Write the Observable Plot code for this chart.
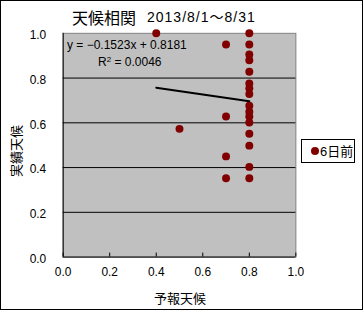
<!DOCTYPE html>
<html>
<head>
<meta charset="utf-8">
<script src="https://cdn.jsdelivr.net/npm/d3@7"></script>
<script src="https://cdn.jsdelivr.net/npm/@observablehq/plot@0.6"></script>
<style>
  body { margin: 0; background: #fff; }
  #wrap { position: relative; width: 363px; height: 310px; box-sizing: border-box; border: 1px solid #000; font-family: "Liberation Sans", "Noto Sans CJK JP", sans-serif; overflow: hidden; }
  #wrap svg { position: absolute; left: -1px; top: -1px; }
  .ov { position: absolute; white-space: nowrap; color: #000; line-height: 1; }
</style>
</head>
<body>
<div id="wrap"></div>
<script>
// Data
const titleMain = "天候相関";
const titleDate = "2013/8/1～8/31";
const xLabel = "予報天候";
const yLabel = "実績天候";
const seriesName = "6日前";
const forecast = [0.4, 0.5, 0.7, 0.7, 0.7, 0.7,
  0.8, 0.8, 0.8, 0.8, 0.8, 0.8, 0.8, 0.8, 0.8, 0.8, 0.8, 0.8, 0.8, 0.8, 0.8, 0.8];
const actual = [1.0, 0.573, 0.95, 0.628, 0.45, 0.352,
  1.0, 0.95, 0.905, 0.88, 0.828, 0.776, 0.754, 0.729, 0.676, 0.65, 0.628, 0.601, 0.551, 0.498, 0.403, 0.352];
const slope = [-0.1523];
const intercept = [0.8181];
const rSquared = ["0.0046"];
const ticks = [0, 0.2, 0.4, 0.6, 0.8, 1.0];
const gridLines = [0.2, 0.4, 0.6, 0.8];

const points = forecast.map((x, i) => ({x, y: actual[i]}));
const xs = d3.extent(forecast);
const trend = xs.map(x => ({x, y: slope[0] * x + intercept[0]}));

const font = '"Liberation Sans", "Noto Sans CJK JP", sans-serif';
const chart = Plot.plot({
  width: 363,
  height: 310,
  marginLeft: 63,
  marginRight: 66,
  marginTop: 33,
  marginBottom: 52,
  style: {fontFamily: font, fontSize: "12px", background: "transparent", overflow: "visible"},
  x: {domain: [0, 1]},
  y: {domain: [0, 1]},
  marks: [
    Plot.frame({fill: "#C0C0C0", stroke: "#808080"}),
    Plot.ruleY(gridLines, {stroke: "#000", strokeWidth: 1}),
    Plot.ruleY([0], {stroke: "#000"}),
    Plot.ruleX([0], {stroke: "#000"}),
    Plot.axisX(ticks, {tickSize: -4, tickPadding: 15, stroke: "#000", fill: "#000", label: null, tickFormat: d3.format(".1f")}),
    Plot.axisY(ticks, {tickSize: 0, tickPadding: 17, fill: "#000", label: null, dy: 2, tickFormat: d3.format(".1f")}),
    Plot.line(trend, {x: "x", y: "y", stroke: "#000", strokeWidth: 2}),
    Plot.dot(points, {x: "x", y: "y", r: 4, fill: "#800000", stroke: "none"})
  ]
});
const wrap = document.getElementById("wrap");
wrap.appendChild(chart);

function ov(text, left, top, size, extra) {
  const d = document.createElement("div");
  d.className = "ov";
  d.textContent = text;
  d.style.left = left + "px";
  d.style.top = top + "px";
  d.style.fontSize = size + "px";
  if (extra) Object.assign(d.style, extra);
  wrap.appendChild(d);
  return d;
}
ov(titleMain, 71, 8, 16, {fontFamily: '"Noto Sans CJK JP", sans-serif'});
ov(titleDate, 146, 9, 14, {letterSpacing: "1px"});
ov(`y = −${Math.abs(slope[0]).toFixed(4)}x + ${intercept[0].toFixed(4)}`, 66, 38, 12);
const r2 = ov("", 97, 55, 12);
r2.innerHTML = `R<sup style="font-size:8px;vertical-align:4px">2</sup> = ${rSquared[0]}`;
ov(xLabel, 153, 290, 13, {fontFamily: '"Noto Sans CJK JP", sans-serif'});
ov(yLabel, 13, 150, 13, {transform: "translate(-50%,-50%) rotate(-90deg)", left: "14px", fontFamily: '"Noto Sans CJK JP", sans-serif'});

// legend
const lg = document.createElement("div");
Object.assign(lg.style, {position: "absolute", left: "300px", top: "138px", width: "54px", height: "24px",
  boxSizing: "border-box", border: "1px solid #000", background: "#fff", display: "flex", alignItems: "center"});
lg.innerHTML = `<span style="display:inline-block;width:8px;height:8px;border-radius:50%;background:#800000;margin-left:9px;margin-right:1px"></span><span style="font-size:13px;line-height:1">${seriesName}</span>`;
wrap.appendChild(lg);
</script>
</body>
</html>
